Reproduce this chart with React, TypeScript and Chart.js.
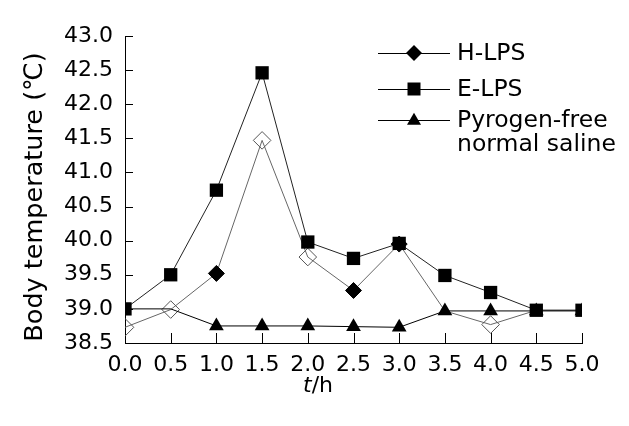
import React, { useEffect, useRef } from 'react';
import { Chart, registerables } from 'chart.js';
Chart.register(...registerables);

const times = [0, 0.5, 1.0, 1.5, 2.0, 2.5, 3.0, 3.5, 4.0, 4.5, 5.0];
const hLps = [38.73, 38.99, 39.52, 41.47, 39.76, 39.27, 39.95, 38.97, 38.77, 38.98, 38.98];
const eLps = [39.0, 39.5, 40.74, 42.46, 39.98, 39.74, 39.96, 39.49, 39.24, 38.98, 38.98];
const saline = [39.0, 39.0, 38.75, 38.75, 38.75, 38.74, 38.73, 38.97, 38.97, 38.97, 38.97];
const hLpsHollow = [true, true, false, true, true, false, false, false, true, false, false];
const hLpsShown = [true, true, true, true, true, true, true, false, true, false, false];
const salineShown = [false, false, true, true, true, true, true, true, true, true, true];
const seriesNames = ['H-LPS', 'E-LPS', 'Pyrogen-free normal saline'];
const legendLines = [['H-LPS'], ['E-LPS'], ['Pyrogen-free', 'normal saline']];
const yTitle = 'Body temperature (\u2103)';
const FONT = '"DejaVu Sans", Verdana, sans-serif';

function drawMarker(ctx: CanvasRenderingContext2D, kind: string, x: number, y: number, r: number) {
  ctx.beginPath();
  if (kind === 'diamond') {
    ctx.moveTo(x, y - r); ctx.lineTo(x + r, y); ctx.lineTo(x, y + r); ctx.lineTo(x - r, y); ctx.closePath();
  } else if (kind === 'square') {
    ctx.rect(x - r, y - r, 2 * r, 2 * r);
  } else {
    const h = r * 1.732;
    ctx.moveTo(x, y - h * 0.6); ctx.lineTo(x + r, y + h * 0.4); ctx.lineTo(x - r, y + h * 0.4); ctx.closePath();
  }
  ctx.fillStyle = '#000';
  ctx.fill();
}

const decor = {
  id: 'decor',
  beforeDatasetsDraw(chart: any) {
    const ctx = chart.ctx;
    const xs = chart.scales.x, ys = chart.scales.y;
    ctx.save();
    ctx.strokeStyle = '#000';
    ctx.lineWidth = 1;
    ctx.beginPath();
    xs.ticks.forEach((t: any) => {
      const px = Math.round(xs.getPixelForValue(t.value)) + 0.5;
      ctx.moveTo(px, ys.bottom); ctx.lineTo(px, ys.bottom - 10);
    });
    ys.ticks.forEach((t: any) => {
      const py = Math.round(ys.getPixelForValue(t.value)) + 0.5;
      ctx.moveTo(xs.left, py); ctx.lineTo(xs.left + 8, py);
    });
    ctx.stroke();
    ctx.restore();
  },
  afterDraw(chart: any) {
    const ctx = chart.ctx;
    ctx.save();
    // legend
    const rows = [53, 89, 120];
    const kinds = ['diamond', 'square', 'triangle'];
    const sizes = [8, 6.5, 7];
    ctx.font = `23.5px ${FONT}`;
    ctx.textBaseline = 'middle';
    ctx.textAlign = 'left';
    rows.forEach((y, i) => {
      ctx.strokeStyle = '#000';
      ctx.lineWidth = 1;
      ctx.beginPath();
      ctx.moveTo(378, y + 0.5); ctx.lineTo(450, y + 0.5);
      ctx.stroke();
      drawMarker(ctx, kinds[i], 414, y, sizes[i]);
      ctx.fillStyle = '#000';
      legendLines[i].forEach((s, j) => ctx.fillText(s, 457, y + 1 + j * 24));
    });
    // x title
    ctx.textBaseline = 'alphabetic';
    ctx.font = `italic 22px ${FONT}`;
    const tW = ctx.measureText('t').width;
    ctx.font = `22px ${FONT}`;
    const rW = ctx.measureText('/h').width;
    const cx = 318;
    const startX = cx - (tW + rW) / 2;
    ctx.font = `italic 22px ${FONT}`;
    ctx.fillText('t', startX, 392);
    ctx.font = `22px ${FONT}`;
    ctx.fillText('/h', startX + tW, 392);
    // y title
    ctx.font = `25.5px ${FONT}`;
    ctx.translate(35, 197);
    ctx.rotate(-Math.PI / 2);
    ctx.textAlign = 'center';
    ctx.textBaseline = 'middle';
    ctx.fillText(yTitle, 0, 0);
    ctx.restore();
  },
};

export default function App() {
  const ref = useRef<HTMLCanvasElement>(null);
  useEffect(() => {
    document.body.style.margin = '0';
    const pts = (arr: number[]) => arr.map((v, i) => ({ x: times[i], y: v }));
    const chart = new Chart(ref.current!, {
      type: 'line',
      data: {
        datasets: [
          {
            label: seriesNames[1],
            data: pts(eLps),
            borderColor: '#222',
            borderWidth: 1,
            pointStyle: 'rect',
            pointRadius: 9.4,
            pointBackgroundColor: '#000',
            pointBorderColor: '#000',
            pointBorderWidth: 0,
            order: 0,
          },
          {
            label: seriesNames[2],
            data: pts(saline),
            borderColor: '#000',
            borderWidth: 1,
            pointStyle: 'triangle',
            pointRadius: salineShown.map((s) => (s ? 8.5 : 0)),
            pointBackgroundColor: '#000',
            pointBorderColor: '#000',
            pointBorderWidth: 0,
            order: 1,
          },
          {
            label: seriesNames[0],
            data: pts(hLps),
            borderColor: '#666',
            borderWidth: 1,
            pointStyle: 'rectRot',
            pointRadius: hLpsShown.map((s, i) => (s ? (hLpsHollow[i] ? 8.8 : 8) : 0)),
            pointBackgroundColor: hLpsHollow.map((h) => (h ? 'rgba(0,0,0,0)' : '#000')),
            pointBorderColor: hLpsHollow.map((h) => (h ? '#555' : '#000')),
            pointBorderWidth: 1,
            order: 2,
          },
        ],
      },
      options: {
        responsive: false,
        animation: false,
        layout: { padding: { top: 36, right: 47, left: 0, bottom: 0 } },
        plugins: { legend: { display: false }, tooltip: { enabled: false } },
        scales: {
          x: {
            type: 'linear',
            min: 0,
            max: 5,
            afterFit: (s: any) => { s.height = 83; },
            ticks: {
              stepSize: 0.5,
              autoSkip: false,
              maxRotation: 0,
              color: '#000',
              font: { family: FONT, size: 22 },
              padding: 9,
              callback: (v: any) => Number(v).toFixed(1),
            },
            grid: { display: true, drawOnChartArea: false, drawTicks: false },
            border: { display: true, color: '#000', width: 1 },
          },
          y: {
            min: 38.5,
            max: 43,
            afterFit: (s: any) => { s.width = 125; },
            ticks: {
              stepSize: 0.5,
              autoSkip: false,
              color: '#000',
              font: { family: FONT, size: 22 },
              padding: 12,
              callback: (v: any) => Number(v).toFixed(1),
            },
            grid: { display: true, drawOnChartArea: false, drawTicks: false },
            border: { display: true, color: '#000', width: 1 },
          },
        },
      },
      plugins: [decor],
    });
    return () => chart.destroy();
  }, []);
  return (
    <div style={{ width: 629, height: 426, background: '#fff' }}>
      <canvas ref={ref} width={629} height={426} />
    </div>
  );
}
